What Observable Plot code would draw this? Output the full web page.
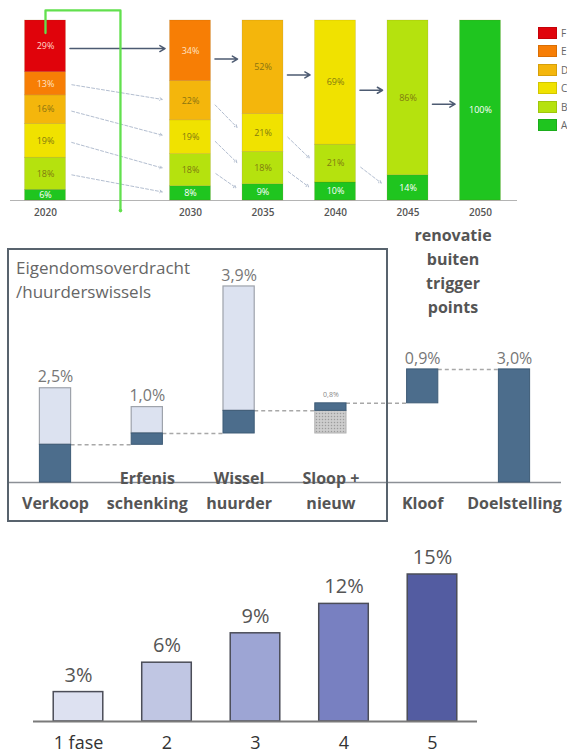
<!DOCTYPE html>
<html><head><meta charset="utf-8">
<script src="https://cdn.jsdelivr.net/npm/d3@7"></script>
<script src="https://cdn.jsdelivr.net/npm/@observablehq/plot@0.6"></script>
<style>
body{margin:0;background:#fff;font-family:"Open Sans",sans-serif;}
#root{position:relative;width:567px;height:756px;overflow:hidden;background:#fff;}
#root svg{position:absolute;left:0;}
.abs{position:absolute;}
.sw{position:absolute;width:19px;height:12px;box-sizing:border-box;border:1px solid rgba(0,0,0,0.12);}
.lg{position:absolute;font-size:10px;color:#666;line-height:12px;}
</style></head><body><div id="root"></div>
<script>
// ---------- Chart 1: energy label distribution ----------
const years = [2020, 2030, 2035, 2040, 2045, 2050];
const classes = ["A", "B", "C", "D", "E", "F"]; // bottom -> top
const shareA = [6, 8, 9, 10, 14, 100];
const shareB = [18, 18, 18, 21, 86, 0];
const shareC = [19, 19, 21, 69, 0, 0];
const shareD = [16, 22, 52, 0, 0, 0];
const shareE = [13, 34, 0, 0, 0, 0];
const shareF = [29, 0, 0, 0, 0, 0];
const classColors = ["#1fc51f", "#b5e20e", "#f0e200", "#f4b60c", "#f77e05", "#e0030b"];
const classTextColors = ["#ffffff", "#7f7a10", "#837a10", "#8a7410", "#ffe2c4", "#ffd6c8"];
const legendOrder = ["F", "E", "D", "C", "B", "A"];

// ---------- Chart 2: waterfall ----------
const steps = ["Verkoop", "Erfenis\nschenking", "Wissel\nhuurder", "Sloop +\nnieuw", "Kloof", "Doelstelling"];
const stepTotals = [2.5, 1.0, 3.9, 0.8, 0.9, 3.0];
const stepEffect = [1.0, 0.3, 0.6, 0.2, 0.9, 3.0];
const restPlacement = ["above", "above", "above", "below", "none", "none"];
const stepIsTotal = [false, false, false, false, false, true];
const boxTitle = "Eigendomsoverdracht\n/huurderswissels";
const sideNote = "renovatie\nbuiten\ntrigger\npoints";

// ---------- Chart 3: phases ----------
const phases = ["1 fase", "2", "3", "4", "5"];
const phaseValues = [3, 6, 9, 12, 15];
const phaseColors = ["#dde1f1", "#c0c6e3", "#9da5d4", "#7880c1", "#535ca1"];

const root = document.getElementById("root");
const FONT = '"Open Sans", sans-serif';

// ===== Chart 1 build =====
const shareCols = [shareA, shareB, shareC, shareD, shareE, shareF];
const halfW = 1.41; // half bar width in years
const segs = [];
const topIdx = {};
const mids = {};
years.forEach((yr, i) => {
  const total = d3.sum(shareCols, c => c[i]);
  let cum = 0;
  mids[yr] = {};
  shareCols.forEach((col, k) => {
    const v = col[i];
    if (v > 0) {
      const y1 = cum / total, y2 = (cum + v) / total;
      segs.push({year: yr, cls: classes[k], k, v, y1, y2, fill: classColors[k], tc: classTextColors[k]});
      mids[yr][k] = (y1 + y2) / 2;
      topIdx[yr] = k;
    }
    cum += v;
  });
});
const mainArrows = [], sideArrows = [];
for (let i = 0; i < years.length - 1; i++) {
  const a = years[i], b = years[i + 1];
  const k = topIdx[a];
  mainArrows.push({x1: a + halfW, x2: b - halfW, y: (mids[a][k] + mids[b][k - 1]) / 2});
  for (let j = 1; j < k; j++) {
    sideArrows.push({x1: a + halfW, x2: b - halfW, y1: mids[a][j], y2: mids[b][j - 1]});
  }
}
const greenPath = [
  {x: 2020, y: 0.93}, {x: 2020, y: 1.056}, {x: 2025.17, y: 1.056}, {x: 2025.17, y: -0.056}
];

const c1 = Plot.plot({
  width: 567, height: 220,
  marginLeft: 10, marginRight: 50, marginTop: 20, marginBottom: 8,
  style: {fontFamily: FONT, background: "transparent"},
  x: {domain: [2020, 2050], range: [45, 480], axis: null},
  y: {domain: [0, 1], range: [200, 20], axis: null},
  color: {type: "identity"},
  marks: [
    Plot.ruleY([0], {stroke: "#b4b4b4", strokeWidth: 1.2}),
    Plot.rect(segs, {x1: d => d.year - halfW, x2: d => d.year + halfW, y1: "y1", y2: "y2", fill: "fill", stroke: "rgba(120,90,0,0.25)", strokeWidth: 0.6}),
    Plot.text(segs, {x: "year", y: d => (d.y1 + d.y2) / 2, text: d => d.v + "%", fill: "tc", fontSize: 9}),
    Plot.arrow(sideArrows, {x1: "x1", x2: "x2", y1: "y1", y2: "y2", stroke: "#b3bed0", strokeWidth: 1, strokeDasharray: "3,2", headLength: 4, insetStart: 6, insetEnd: 8}),
    Plot.arrow(mainArrows, {x1: "x1", x2: "x2", y1: "y", y2: "y", stroke: "#4d5b72", strokeWidth: 1.5, headLength: 6, insetStart: 4, insetEnd: 5}),
    Plot.line(greenPath, {x: "x", y: "y", stroke: "#62e04e", strokeWidth: 2.3}),
    Plot.dot(greenPath.slice(-1), {x: "x", y: "y", r: 1.8, fill: "#62e04e"}),
    Plot.text(years, {x: d => d, text: d => String(d), frameAnchor: "bottom", lineAnchor: "middle", fontSize: 10, fontWeight: 600, fill: "#555"})
  ]
});
c1.style.top = "0px";
root.appendChild(c1);

// legend
legendOrder.forEach((c, i) => {
  const k = classes.indexOf(c);
  const sw = document.createElement("div");
  sw.className = "sw";
  sw.style.left = "538px"; sw.style.top = (27 + i * 18.4) + "px";
  sw.style.background = classColors[k];
  root.appendChild(sw);
  const lb = document.createElement("div");
  lb.className = "lg";
  lb.style.left = "561px"; lb.style.top = (27 + i * 18.4) + "px";
  lb.textContent = c;
  root.appendChild(lb);
});

// ===== Chart 2 build =====
const half2 = 0.17;
let cum2 = 0;
const stepData = steps.map((label, i) => {
  const start = stepIsTotal[i] ? 0 : cum2;
  const end = start + stepEffect[i];
  if (!stepIsTotal[i]) cum2 = end;
  const rest = +(stepTotals[i] - stepEffect[i]).toFixed(2);
  let r1 = null, r2 = null, top = end;
  if (restPlacement[i] === "above") { r1 = end; r2 = end + rest; top = r2; }
  else if (restPlacement[i] === "below") { r1 = start - rest; r2 = start; }
  return {i, label, start, end, r1, r2, top, place: restPlacement[i],
          txt: stepTotals[i].toFixed(1).replace(".", ",") + "%"};
});
const connectors = stepData.slice(0, -1).map((d, i) => ({x1: i + half2, x2: i + 1 - half2, y: d.end}));

const c2 = Plot.plot({
  width: 567, height: 310,
  marginLeft: 8, marginRight: 6, marginTop: 0, marginBottom: 22,
  style: {fontFamily: FONT, background: "transparent"},
  x: {domain: [0, 5], range: [55, 514], axis: null},
  y: {domain: [0, 3], range: [262, 148.9], axis: null},
  marks: [
    Plot.ruleY([0], {stroke: "#8c9096", strokeWidth: 1.5}),
    Plot.ruleY(connectors, {x1: "x1", x2: "x2", y: "y", stroke: "#a8a8a8", strokeWidth: 1.5, strokeDasharray: "4,3"}),
    Plot.rect(stepData.filter(d => d.place === "above"), {x1: d => d.i - half2, x2: d => d.i + half2, y1: "r1", y2: "r2", fill: "#dce2f0", stroke: "#9ea3ab", strokeWidth: 1.2}),
    Plot.rect(stepData.filter(d => d.place === "below"), {x1: d => d.i - half2, x2: d => d.i + half2, y1: "r1", y2: "r2", fill: "url(#dots)", stroke: "#b0b0b0", strokeWidth: 1}),
    Plot.rect(stepData, {x1: d => d.i - half2, x2: d => d.i + half2, y1: "start", y2: "end", fill: "#4c6d8c", stroke: "#3e5b76", strokeWidth: 1}),
    Plot.text(stepData.filter(d => d.place !== "below"), {x: "i", y: "top", text: "txt", dy: -11, fontSize: 16, fill: "#777"}),
    Plot.text(stepData.filter(d => d.place === "below"), {x: "i", y: "top", text: "txt", dy: -9, fontSize: 7, fill: "#888"}),
    Plot.text(stepData, {x: "i", text: "label", frameAnchor: "bottom", lineAnchor: "bottom", lineHeight: 1.55, fontSize: 16, fontWeight: "bold", fill: "#555"})
  ]
});
c2.style.top = "220px";
const defs = d3.select(c2).insert("defs", ":first-child");
const pat = defs.append("pattern").attr("id", "dots").attr("width", 3).attr("height", 3).attr("patternUnits", "userSpaceOnUse");
pat.append("rect").attr("width", 3).attr("height", 3).attr("fill", "#cdcdcd");
pat.append("circle").attr("cx", 1.5).attr("cy", 1.5).attr("r", 0.75).attr("fill", "#9c9c9c");
root.appendChild(c2);

const box = document.createElement("div");
box.className = "abs";
Object.assign(box.style, {left: "7px", top: "248px", width: "381px", height: "274px", border: "2px solid #58636d", boxSizing: "border-box"});
root.appendChild(box);

const t1 = document.createElement("div");
t1.className = "abs";
Object.assign(t1.style, {left: "16px", top: "256px", fontSize: "17px", lineHeight: "24px", color: "#666", whiteSpace: "pre"});
t1.textContent = boxTitle;
root.appendChild(t1);

const t2 = document.createElement("div");
t2.className = "abs";
Object.assign(t2.style, {left: "393px", width: "120px", top: "223px", fontSize: "16px", lineHeight: "24px", color: "#555", fontWeight: "bold", textAlign: "center", whiteSpace: "pre"});
t2.textContent = sideNote;
root.appendChild(t2);

// ===== Chart 3 build =====
const half3 = 0.28;
const phaseData = phases.map((p, i) => ({i, p, v: phaseValues[i], fill: phaseColors[i]}));
const c3 = Plot.plot({
  width: 567, height: 226,
  marginLeft: 33, marginRight: 90, marginTop: 0, marginBottom: 13,
  style: {fontFamily: FONT, background: "transparent"},
  x: {domain: [0, 4], range: [78, 432], axis: null},
  y: {domain: [0, 15], range: [191, 44], axis: null},
  color: {type: "identity"},
  marks: [
    Plot.rect(phaseData, {x1: d => d.i - half3, x2: d => d.i + half3, y1: 0, y2: "v", fill: "fill", stroke: "#4b4d58", strokeWidth: 1.5}),
    Plot.ruleY([0], {stroke: "#7a7a7a", strokeWidth: 2}),
    Plot.text(phaseData, {x: "i", y: "v", text: d => d.v + "%", dy: -17, fontSize: 20, fill: "#555"}),
    Plot.text(phaseData, {x: "i", text: "p", frameAnchor: "bottom", lineAnchor: "middle", fontSize: 18, fill: "#333"})
  ]
});
c3.style.top = "530px";
root.appendChild(c3);
</script></body></html>
